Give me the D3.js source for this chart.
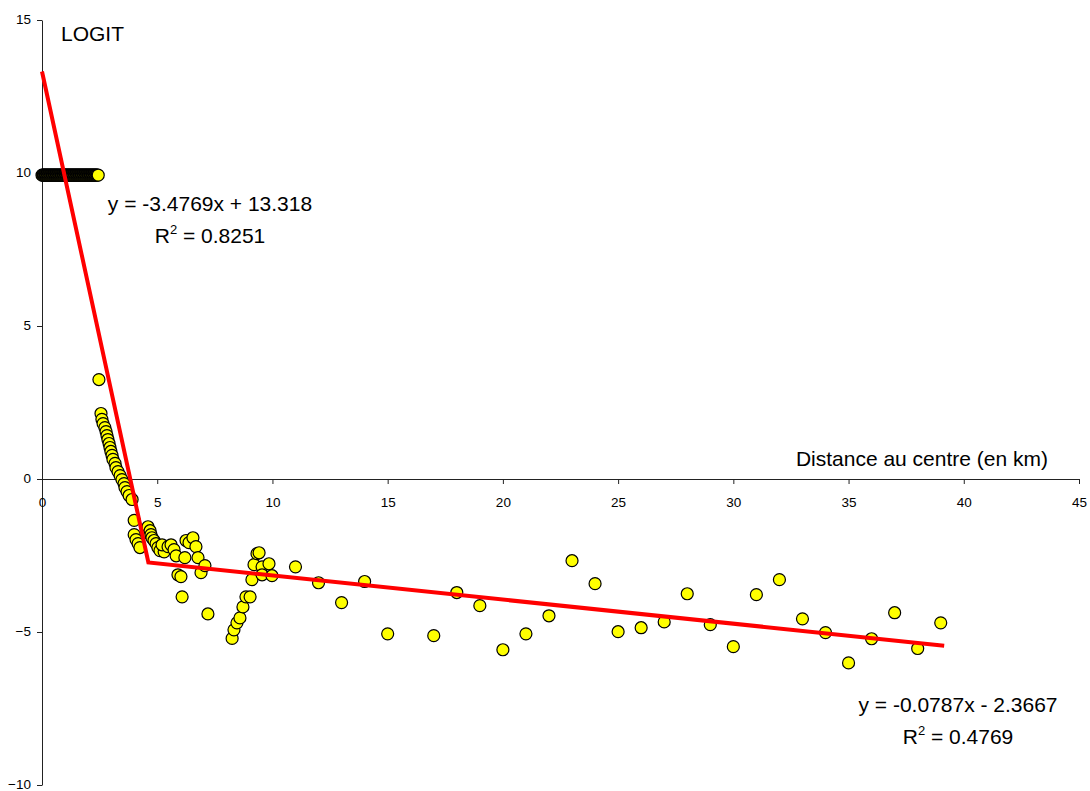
<!DOCTYPE html>
<html>
<head>
<meta charset="utf-8">
<script src="https://cdn.jsdelivr.net/npm/d3@7"></script>
<style>
  html, body { margin: 0; padding: 0; background: #ffffff; }
  svg { display: block; font-family: "Liberation Sans", Arial, sans-serif; }
</style>
</head>
<body>
<svg id="chart" width="1090" height="791"></svg>
<script>
// ---------- DATA ----------
// Saturated observations (logit capped) along the top row
const satDist = [0.00,0.03,0.06,0.09,0.12,0.15,0.18,0.21,0.24,0.27,0.30,0.33,0.36,0.39,0.42,0.45,
  0.48,0.51,0.54,0.57,0.60,0.63,0.66,0.69,0.72,0.75,0.78,0.81,0.84,0.87,0.90,0.93,0.96,0.99,
  1.02,1.05,1.08,1.11,1.14,1.17,1.20,1.23,1.26,1.29,1.32,1.35,1.38,1.41,1.44,1.47,1.50,1.53,
  1.56,1.59,1.62,1.65,1.68,1.71,1.74,1.77,1.80,1.83,1.86,1.89,1.92,1.95,1.98,2.01,2.04,2.07,
  2.10,2.13,2.16,2.19,2.22,2.25,2.28,2.31,2.34,2.37,2.40,2.44];
const satLogit = 9.93;

// Observations close to the centre (distance < 10 km)
const nearDist = [2.47,2.56,2.60,2.65,2.73,2.78,2.82,2.86,2.91,2.95,2.99,3.04,3.08,3.17,3.21,3.30,
  3.39,3.47,3.56,3.60,3.69,3.78,3.91,4.00,4.00,4.08,4.17,4.25,4.55,
  4.60,4.69,4.73,4.77,4.86,4.95,5.03,5.12,5.30,5.21,5.47,5.60,5.73,5.82,5.90,6.03,6.08,
  6.25,6.38,6.55,6.68,6.77,6.90,7.07,7.20,6.20,
  8.25,8.33,8.46,8.59,8.72,8.85,9.03,9.11,9.20,9.33,9.42,9.55,9.55,9.85,9.98];
const nearLogit = [3.25,2.14,1.95,1.81,1.68,1.55,1.42,1.29,1.16,1.03,0.90,0.77,0.64,0.51,0.37,0.24,
  0.11,-0.02,-0.15,-0.28,-0.41,-0.54,-0.67,-1.35,-1.82,-1.98,-2.11,-2.24,-1.75,
  -1.56,-1.69,-1.82,-1.92,-2.01,-2.11,-2.24,-2.34,-2.38,-2.15,-2.21,-2.15,-2.31,-2.51,-3.13,-3.19,-3.85,
  -2.01,-2.08,-1.92,-2.21,-2.57,-3.06,-2.83,-4.41,-2.57,
  -5.21,-4.93,-4.70,-4.54,-4.18,-3.85,-3.85,-3.29,-2.80,-2.44,-2.41,-2.87,-3.13,-2.77,-3.16];

// Observations far from the centre
const farDist = [11,12,13,14,15,17,18,19,20,21,22,23,24,25,26,27,28,29,30,31,32,33,34,35,36,37,38,39];
const farLogit = [-2.87,-3.39,-4.04,-3.35,-5.06,-5.12,-3.71,-4.14,-5.58,-5.06,-4.47,-2.67,-3.42,-4.99,
  -4.86,-4.67,-3.75,-4.76,-5.48,-3.78,-3.29,-4.57,-5.02,-6.01,-5.22,-4.37,-5.54,-4.70];

// Piecewise linear fits
const fitSlopes = [-3.4769, -0.0787];
const fitIntercepts = [13.318, -2.3667];
const fitEndX = 39.15;
const fitLabels = ["y = -3.4769x + 13.318", "y = -0.0787x - 2.3667"];
const fitR2 = ["0.8251", "0.4769"];

// Axis ticks and titles
const xTicks = [0,5,10,15,20,25,30,35,40,45];
const yTicks = [-10,-5,0,5,10,15];
const xTitle = "Distance au centre (en km)";
const yTitle = "LOGIT";

// ---------- CHART ----------
const svg = d3.select("#chart");
const x = d3.scaleLinear().domain([0, 45]).range([42, 1079]);
const y = d3.scaleLinear().domain([-10, 15]).range([785, 20]);

// axes
const yAxis = d3.axisLeft(y).tickValues(yTicks).tickSize(5).tickSizeOuter(0).tickPadding(6);
const xAxis = d3.axisBottom(x).tickValues(xTicks).tickSize(5).tickSizeOuter(0).tickPadding(13);

const gy = svg.append("g").attr("transform", `translate(${x(0)},0)`).call(yAxis);
const gx = svg.append("g").attr("transform", `translate(0,${y(0)})`).call(xAxis);
[gx, gy].forEach(g => {
  g.selectAll("path.domain").attr("stroke", "#222").attr("stroke-width", 1);
  g.selectAll(".tick line").attr("stroke", "#222").attr("stroke-width", 1);
  g.selectAll(".tick text").attr("font-size", 13.5).attr("fill", "#000")
    .attr("font-family", "'Liberation Sans', Arial, sans-serif");
});
gy.selectAll(".tick text").attr("dy", "0.28em");

// points
const pts = svg.append("g");
const allPts = [];
satDist.forEach(d => allPts.push([d, satLogit]));
nearDist.forEach((d, i) => allPts.push([d, nearLogit[i]]));
farDist.forEach((d, i) => allPts.push([d, farLogit[i]]));
pts.selectAll("circle").data(allPts).join("circle")
  .attr("cx", d => x(d[0]))
  .attr("cy", d => y(d[1]))
  .attr("r", 6)
  .attr("fill", "#ffff00")
  .attr("stroke", "#000")
  .attr("stroke-width", 1.2);

// fitted lines
const xBreak = (fitIntercepts[0] - fitIntercepts[1]) / (fitSlopes[1] - fitSlopes[0]);
const seg = [
  [[0, fitIntercepts[0]], [xBreak, fitSlopes[0] * xBreak + fitIntercepts[0]]],
  [[xBreak, fitSlopes[1] * xBreak + fitIntercepts[1]], [fitEndX, fitSlopes[1] * fitEndX + fitIntercepts[1]]]
];
const line = d3.line().x(d => x(d[0])).y(d => y(d[1]));
svg.append("path")
  .attr("d", line([seg[0][0], seg[0][1], seg[1][1]]))
  .attr("fill", "none").attr("stroke", "#ff0000").attr("stroke-width", 4)
  .attr("stroke-linejoin", "miter");

// titles
svg.append("text").attr("x", 61).attr("y", 41).attr("font-size", 21).text(yTitle);
svg.append("text").attr("x", 1048).attr("y", 466).attr("font-size", 21)
  .attr("text-anchor", "end").text(xTitle);

// equations
const eqPos = [[210, 211], [958, 712]];
fitLabels.forEach((lab, i) => {
  const [cx, by] = eqPos[i];
  svg.append("text").attr("x", cx).attr("y", by).attr("font-size", 21)
    .attr("text-anchor", "middle").text(lab);
  const t = svg.append("text").attr("x", cx).attr("y", by + 32).attr("font-size", 21)
    .attr("text-anchor", "middle");
  t.append("tspan").text("R");
  t.append("tspan").attr("dy", -9).attr("font-size", 13).text("2");
  t.append("tspan").attr("dy", 9).text(" = " + fitR2[i]);
});
</script>
</body>
</html>
